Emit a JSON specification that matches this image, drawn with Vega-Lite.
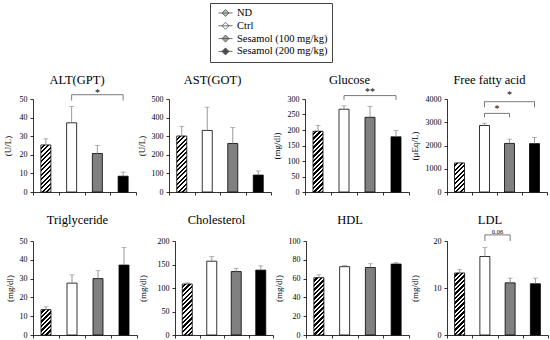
{
"$schema": "https://vega.github.io/schema/vega-lite/v6.json",
"padding": {"left": 3, "top": 0, "right": 0, "bottom": 0},
"spacing": 17,
"config": {
  "font": "Liberation Serif",
  "view": {"stroke": null},
  "axis": {"domainColor": "#000", "tickColor": "#000", "labelColor": "#000", "titleColor": "#000", "labelFont": "Liberation Serif", "titleFont": "Liberation Serif", "labelFontSize": 8, "titleFontSize": 9, "titleFontWeight": "normal", "tickSize": 3, "grid": false, "domainWidth": 0.8, "tickWidth": 0.8, "labelOverlap": false},
  "axisY": {"minExtent": 15, "maxExtent": 15, "labelPadding": 3, "labelOverlap": false, "tickCount": 20},
  "legend": {"labelFont": "Liberation Serif", "labelFontSize": 10.5, "labelColor": "#000", "labelLimit": 200},
  "title": {"font": "Liberation Serif", "fontSize": 12.5, "fontWeight": "normal", "color": "#000", "offset": 7, "frame": "group", "dx": -7.5}
},
"datasets": {
  "bars": [
    {"panel": "ALT", "group": "ND", "mean": 25.3, "upper": 28.6},
    {"panel": "ALT", "group": "Ctrl", "mean": 37.2, "upper": 45.9},
    {"panel": "ALT", "group": "Sesamol (100 mg/kg)", "mean": 20.7, "upper": 25.0},
    {"panel": "ALT", "group": "Sesamol (200 mg/kg)", "mean": 8.5, "upper": 10.7},
    {"panel": "AST", "group": "ND", "mean": 301, "upper": 352},
    {"panel": "AST", "group": "Ctrl", "mean": 331, "upper": 456},
    {"panel": "AST", "group": "Sesamol (100 mg/kg)", "mean": 261, "upper": 347},
    {"panel": "AST", "group": "Sesamol (200 mg/kg)", "mean": 91, "upper": 113},
    {"panel": "GLU", "group": "ND", "mean": 196, "upper": 215},
    {"panel": "GLU", "group": "Ctrl", "mean": 267, "upper": 278},
    {"panel": "GLU", "group": "Sesamol (100 mg/kg)", "mean": 241, "upper": 276},
    {"panel": "GLU", "group": "Sesamol (200 mg/kg)", "mean": 178, "upper": 198},
    {"panel": "FFA", "group": "ND", "mean": 1250, "upper": 1275},
    {"panel": "FFA", "group": "Ctrl", "mean": 2860, "upper": 2960},
    {"panel": "FFA", "group": "Sesamol (100 mg/kg)", "mean": 2090, "upper": 2270},
    {"panel": "FFA", "group": "Sesamol (200 mg/kg)", "mean": 2080, "upper": 2350},
    {"panel": "TG", "group": "ND", "mean": 13.5, "upper": 15.0},
    {"panel": "TG", "group": "Ctrl", "mean": 27.6, "upper": 32.0},
    {"panel": "TG", "group": "Sesamol (100 mg/kg)", "mean": 30.0, "upper": 34.2},
    {"panel": "TG", "group": "Sesamol (200 mg/kg)", "mean": 37.2, "upper": 46.6},
    {"panel": "TC", "group": "ND", "mean": 108.5, "upper": 111},
    {"panel": "TC", "group": "Ctrl", "mean": 157, "upper": 167},
    {"panel": "TC", "group": "Sesamol (100 mg/kg)", "mean": 135, "upper": 142},
    {"panel": "TC", "group": "Sesamol (200 mg/kg)", "mean": 138, "upper": 147},
    {"panel": "HDL", "group": "ND", "mean": 61, "upper": 64},
    {"panel": "HDL", "group": "Ctrl", "mean": 72.7, "upper": 74},
    {"panel": "HDL", "group": "Sesamol (100 mg/kg)", "mean": 71.8, "upper": 75.8},
    {"panel": "HDL", "group": "Sesamol (200 mg/kg)", "mean": 75.5, "upper": 77},
    {"panel": "LDL", "group": "ND", "mean": 13.2, "upper": 13.9},
    {"panel": "LDL", "group": "Ctrl", "mean": 16.7, "upper": 18.6},
    {"panel": "LDL", "group": "Sesamol (100 mg/kg)", "mean": 11.1, "upper": 12.1},
    {"panel": "LDL", "group": "Sesamol (200 mg/kg)", "mean": 10.9, "upper": 12.1}
  ],
  "brackets": [
    {"panel": "ALT", "id": "a", "ord": 1, "group": "Ctrl", "y": 49.2},
    {"panel": "ALT", "id": "a", "ord": 2, "group": "Ctrl", "y": 52.3},
    {"panel": "ALT", "id": "a", "ord": 3, "group": "Sesamol (200 mg/kg)", "y": 52.3},
    {"panel": "ALT", "id": "a", "ord": 4, "group": "Sesamol (200 mg/kg)", "y": 49.2},
    {"panel": "GLU", "id": "a", "ord": 1, "group": "Ctrl", "y": 297},
    {"panel": "GLU", "id": "a", "ord": 2, "group": "Ctrl", "y": 311},
    {"panel": "GLU", "id": "a", "ord": 3, "group": "Sesamol (200 mg/kg)", "y": 311},
    {"panel": "GLU", "id": "a", "ord": 4, "group": "Sesamol (200 mg/kg)", "y": 297},
    {"panel": "FFA", "id": "a", "ord": 1, "group": "Ctrl", "y": 3209},
    {"panel": "FFA", "id": "a", "ord": 2, "group": "Ctrl", "y": 3381},
    {"panel": "FFA", "id": "a", "ord": 3, "group": "Sesamol (100 mg/kg)", "y": 3381},
    {"panel": "FFA", "id": "a", "ord": 4, "group": "Sesamol (100 mg/kg)", "y": 3209},
    {"panel": "FFA", "id": "b", "ord": 1, "group": "Ctrl", "y": 3640},
    {"panel": "FFA", "id": "b", "ord": 2, "group": "Ctrl", "y": 3884},
    {"panel": "FFA", "id": "b", "ord": 3, "group": "Sesamol (200 mg/kg)", "y": 3884},
    {"panel": "FFA", "id": "b", "ord": 4, "group": "Sesamol (200 mg/kg)", "y": 3640},
    {"panel": "LDL", "id": "a", "ord": 1, "group": "Ctrl", "y": 20.0},
    {"panel": "LDL", "id": "a", "ord": 2, "group": "Ctrl", "y": 21.3},
    {"panel": "LDL", "id": "a", "ord": 3, "group": "Sesamol (100 mg/kg)", "y": 21.3},
    {"panel": "LDL", "id": "a", "ord": 4, "group": "Sesamol (100 mg/kg)", "y": 20.0}
  ],
  "sig": [
    {"panel": "ALT", "pos": "mid", "group": "Sesamol (100 mg/kg)", "y": 51.8, "label": "*"},
    {"panel": "GLU", "pos": "mid", "group": "Sesamol (100 mg/kg)", "y": 313, "label": "**"},
    {"panel": "FFA", "pos": "edge", "group": "Ctrl", "y": 3424, "label": "*"},
    {"panel": "FFA", "pos": "mid", "group": "Sesamol (100 mg/kg)", "y": 4030, "label": "*"},
    {"panel": "LDL", "pos": "edge", "group": "Ctrl", "y": 21.55, "label": "0.06"}
  ]
},
"vconcat": [
  {
    "width": 10, "height": 56,
    "data": {"name": "bars"},
    "transform": [{"filter": "false"}],
    "mark": {"type": "point", "filled": true, "shape": "M-1.4,0H1.4M0,-0.7L0.7,0L0,0.7L-0.7,0Z", "stroke": "#000", "strokeWidth": 0.8, "size": 100},
    "encoding": {
      "fill": {"field": "group", "type": "nominal",
        "scale": {"domain": ["ND", "Ctrl", "Sesamol (100 mg/kg)", "Sesamol (200 mg/kg)"], "range": ["#a6a6a6", "#ffffff", "#808080", "#000000"]},
        "legend": {"title": null, "orient": "none", "legendX": 177, "legendY": 3, "direction": "vertical", "strokeColor": "#444", "padding": 4.5, "symbolOffset": 5.5, "symbolType": "M-1.4,0H1.4M0,-0.7L0.7,0L0,0.7L-0.7,0Z", "symbolSize": 100, "symbolStrokeColor": "#000", "symbolStrokeWidth": 0.8, "labelFont": "Liberation Serif", "labelFontSize": 10.5, "labelColor": "#000", "labelOffset": 6, "rowPadding": 1.8, "labelLimit": 200}}
    }
  },
  {
    "spacing": 0,
    "hconcat": [
      {
        "width": 103, "height": 93,
        "title": {"text": "ALT(GPT)", "offset": 1.35},
        "encoding": {"x": {"field": "group", "type": "nominal", "title": null, "scale": {"domain": ["ND", "Ctrl", "Sesamol (100 mg/kg)", "Sesamol (200 mg/kg)"], "paddingInner": 0, "paddingOuter": 0}, "axis": {"labels": false, "tickBand": "extent", "title": null}}},
        "layer": [
          {"data": {"name": "bars"}, "transform": [{"filter": "datum.panel==='ALT' && datum.group!=='ND'"}],
           "mark": {"type": "bar", "width": 10, "stroke": "#000", "strokeWidth": 0.8},
           "encoding": {"y": {"field": "mean", "type": "quantitative", "title": "(U/L)", "scale": {"domain": [0, 50], "nice": false}, "axis": {"values": [0, 10, 20, 30, 40, 50], "tickCount": 20, "labelOverlap": false, "titlePadding": 5.5}},
             "fill": {"field": "group", "type": "nominal", "scale": {"domain": ["ND", "Ctrl", "Sesamol (100 mg/kg)", "Sesamol (200 mg/kg)"], "range": ["#a6a6a6", "#ffffff", "#808080", "#000000"]}, "legend": null}}},
          {"data": {"name": "bars"}, "transform": [{"filter": "datum.panel==='ALT' && datum.group==='ND'"}],
           "mark": {"type": "bar", "width": 10, "stroke": "#000", "strokeWidth": 0.8, "fill": {"gradient": "linear", "x1": 0, "y1": 0, "x2": 0.3456, "y2": 1.6265, "stops": [{"offset":0,"color":"#fff"},{"offset":0.028,"color":"#fff"},{"offset":0.028,"color":"#000"},{"offset":0.056,"color":"#000"},{"offset":0.056,"color":"#fff"},{"offset":0.084,"color":"#fff"},{"offset":0.084,"color":"#000"},{"offset":0.113,"color":"#000"},{"offset":0.113,"color":"#fff"},{"offset":0.141,"color":"#fff"},{"offset":0.141,"color":"#000"},{"offset":0.169,"color":"#000"},{"offset":0.169,"color":"#fff"},{"offset":0.197,"color":"#fff"},{"offset":0.197,"color":"#000"},{"offset":0.225,"color":"#000"},{"offset":0.225,"color":"#fff"},{"offset":0.253,"color":"#fff"},{"offset":0.253,"color":"#000"},{"offset":0.281,"color":"#000"},{"offset":0.281,"color":"#fff"},{"offset":0.309,"color":"#fff"},{"offset":0.309,"color":"#000"},{"offset":0.338,"color":"#000"},{"offset":0.338,"color":"#fff"},{"offset":0.366,"color":"#fff"},{"offset":0.366,"color":"#000"},{"offset":0.394,"color":"#000"},{"offset":0.394,"color":"#fff"},{"offset":0.422,"color":"#fff"},{"offset":0.422,"color":"#000"},{"offset":0.45,"color":"#000"},{"offset":0.45,"color":"#fff"},{"offset":0.478,"color":"#fff"},{"offset":0.478,"color":"#000"},{"offset":0.506,"color":"#000"},{"offset":0.506,"color":"#fff"},{"offset":0.534,"color":"#fff"},{"offset":0.534,"color":"#000"},{"offset":0.563,"color":"#000"},{"offset":0.563,"color":"#fff"},{"offset":0.591,"color":"#fff"},{"offset":0.591,"color":"#000"},{"offset":0.619,"color":"#000"},{"offset":0.619,"color":"#fff"},{"offset":0.647,"color":"#fff"},{"offset":0.647,"color":"#000"},{"offset":0.675,"color":"#000"},{"offset":0.675,"color":"#fff"},{"offset":0.703,"color":"#fff"},{"offset":0.703,"color":"#000"},{"offset":0.731,"color":"#000"},{"offset":0.731,"color":"#fff"},{"offset":1,"color":"#fff"}]}},
           "encoding": {"y": {"field": "mean", "type": "quantitative", "title": "(U/L)", "scale": {"domain": [0, 50], "nice": false}}}},
          {"data": {"name": "bars"}, "transform": [{"filter": "datum.panel==='ALT'"}],
           "mark": {"type": "rule", "color": "#808080", "strokeWidth": 0.8},
           "encoding": {"y": {"field": "mean", "type": "quantitative", "title": "(U/L)", "scale": {"domain": [0, 50], "nice": false}}, "y2": {"field": "upper"}}},
          {"data": {"name": "bars"}, "transform": [{"filter": "datum.panel==='ALT'"}],
           "mark": {"type": "tick", "color": "#808080", "size": 5, "thickness": 0.8},
           "encoding": {"y": {"field": "upper", "type": "quantitative", "title": "(U/L)", "scale": {"domain": [0, 50], "nice": false}}}},
          {"data": {"name": "brackets"}, "transform": [{"filter": "datum.panel==='ALT'"}],
           "mark": {"type": "line", "color": "#595959", "strokeWidth": 0.8},
           "encoding": {"y": {"field": "y", "type": "quantitative", "title": "(U/L)", "scale": {"domain": [0, 50], "nice": false}}, "detail": {"field": "id"}, "order": {"field": "ord"}}},
          {"data": {"name": "sig"}, "transform": [{"filter": "datum.panel==='ALT'"}],
           "mark": {"type": "text", "fontSize": 10, "baseline": "alphabetic", "font": "Liberation Serif", "color": "#000"},
           "encoding": {"y": {"field": "y", "type": "quantitative", "title": "(U/L)", "scale": {"domain": [0, 50], "nice": false}}, "text": {"field": "label"}}}
        ]
      },
      {
        "width": 102, "height": 93,
        "title": {"text": "AST(GOT)", "offset": 8.7},
        "encoding": {"x": {"field": "group", "type": "nominal", "title": null, "scale": {"domain": ["ND", "Ctrl", "Sesamol (100 mg/kg)", "Sesamol (200 mg/kg)"], "paddingInner": 0, "paddingOuter": 0}, "axis": {"labels": false, "tickBand": "extent", "title": null}}},
        "layer": [
          {"data": {"name": "bars"}, "transform": [{"filter": "datum.panel==='AST' && datum.group!=='ND'"}],
           "mark": {"type": "bar", "width": 10, "stroke": "#000", "strokeWidth": 0.8},
           "encoding": {"y": {"field": "mean", "type": "quantitative", "title": "(U/L)", "scale": {"domain": [0, 500], "nice": false}, "axis": {"values": [0, 100, 200, 300, 400, 500], "tickCount": 20, "labelOverlap": false, "titlePadding": 7.5}},
             "fill": {"field": "group", "type": "nominal", "scale": {"domain": ["ND", "Ctrl", "Sesamol (100 mg/kg)", "Sesamol (200 mg/kg)"], "range": ["#a6a6a6", "#ffffff", "#808080", "#000000"]}, "legend": null}}},
          {"data": {"name": "bars"}, "transform": [{"filter": "datum.panel==='AST' && datum.group==='ND'"}],
           "mark": {"type": "bar", "width": 10, "stroke": "#000", "strokeWidth": 0.8, "fill": {"gradient": "linear", "x1": 0, "y1": 0, "x2": 0.2473, "y2": 1.3847, "stops": [{"offset":0,"color":"#fff"},{"offset":0.028,"color":"#fff"},{"offset":0.028,"color":"#000"},{"offset":0.056,"color":"#000"},{"offset":0.056,"color":"#fff"},{"offset":0.084,"color":"#fff"},{"offset":0.084,"color":"#000"},{"offset":0.113,"color":"#000"},{"offset":0.113,"color":"#fff"},{"offset":0.141,"color":"#fff"},{"offset":0.141,"color":"#000"},{"offset":0.169,"color":"#000"},{"offset":0.169,"color":"#fff"},{"offset":0.197,"color":"#fff"},{"offset":0.197,"color":"#000"},{"offset":0.225,"color":"#000"},{"offset":0.225,"color":"#fff"},{"offset":0.253,"color":"#fff"},{"offset":0.253,"color":"#000"},{"offset":0.281,"color":"#000"},{"offset":0.281,"color":"#fff"},{"offset":0.309,"color":"#fff"},{"offset":0.309,"color":"#000"},{"offset":0.338,"color":"#000"},{"offset":0.338,"color":"#fff"},{"offset":0.366,"color":"#fff"},{"offset":0.366,"color":"#000"},{"offset":0.394,"color":"#000"},{"offset":0.394,"color":"#fff"},{"offset":0.422,"color":"#fff"},{"offset":0.422,"color":"#000"},{"offset":0.45,"color":"#000"},{"offset":0.45,"color":"#fff"},{"offset":0.478,"color":"#fff"},{"offset":0.478,"color":"#000"},{"offset":0.506,"color":"#000"},{"offset":0.506,"color":"#fff"},{"offset":0.534,"color":"#fff"},{"offset":0.534,"color":"#000"},{"offset":0.563,"color":"#000"},{"offset":0.563,"color":"#fff"},{"offset":0.591,"color":"#fff"},{"offset":0.591,"color":"#000"},{"offset":0.619,"color":"#000"},{"offset":0.619,"color":"#fff"},{"offset":0.647,"color":"#fff"},{"offset":0.647,"color":"#000"},{"offset":0.675,"color":"#000"},{"offset":0.675,"color":"#fff"},{"offset":0.703,"color":"#fff"},{"offset":0.703,"color":"#000"},{"offset":0.731,"color":"#000"},{"offset":0.731,"color":"#fff"},{"offset":0.759,"color":"#fff"},{"offset":0.759,"color":"#000"},{"offset":0.788,"color":"#000"},{"offset":0.788,"color":"#fff"},{"offset":0.816,"color":"#fff"},{"offset":0.816,"color":"#000"},{"offset":0.844,"color":"#000"},{"offset":0.844,"color":"#fff"},{"offset":1,"color":"#fff"}]}},
           "encoding": {"y": {"field": "mean", "type": "quantitative", "title": "(U/L)", "scale": {"domain": [0, 500], "nice": false}}}},
          {"data": {"name": "bars"}, "transform": [{"filter": "datum.panel==='AST'"}],
           "mark": {"type": "rule", "color": "#808080", "strokeWidth": 0.8},
           "encoding": {"y": {"field": "mean", "type": "quantitative", "title": "(U/L)", "scale": {"domain": [0, 500], "nice": false}}, "y2": {"field": "upper"}}},
          {"data": {"name": "bars"}, "transform": [{"filter": "datum.panel==='AST'"}],
           "mark": {"type": "tick", "color": "#808080", "size": 5, "thickness": 0.8},
           "encoding": {"y": {"field": "upper", "type": "quantitative", "title": "(U/L)", "scale": {"domain": [0, 500], "nice": false}}}}
        ]
      },
      {
        "width": 104, "height": 93,
        "title": {"text": "Glucose", "offset": 0.67},
        "encoding": {"x": {"field": "group", "type": "nominal", "title": null, "scale": {"domain": ["ND", "Ctrl", "Sesamol (100 mg/kg)", "Sesamol (200 mg/kg)"], "paddingInner": 0, "paddingOuter": 0}, "axis": {"labels": false, "tickBand": "extent", "title": null}}},
        "layer": [
          {"data": {"name": "bars"}, "transform": [{"filter": "datum.panel==='GLU' && datum.group!=='ND'"}],
           "mark": {"type": "bar", "width": 10, "stroke": "#000", "strokeWidth": 0.8},
           "encoding": {"y": {"field": "mean", "type": "quantitative", "title": "(mg/dl)", "scale": {"domain": [0, 300], "nice": false}, "axis": {"values": [0, 50, 100, 150, 200, 250, 300], "tickCount": 20, "labelOverlap": false, "titlePadding": 9}},
             "fill": {"field": "group", "type": "nominal", "scale": {"domain": ["ND", "Ctrl", "Sesamol (100 mg/kg)", "Sesamol (200 mg/kg)"], "range": ["#a6a6a6", "#ffffff", "#808080", "#000000"]}, "legend": null}}},
          {"data": {"name": "bars"}, "transform": [{"filter": "datum.panel==='GLU' && datum.group==='ND'"}],
           "mark": {"type": "bar", "width": 10, "stroke": "#000", "strokeWidth": 0.8, "fill": {"gradient": "linear", "x1": 0, "y1": 0, "x2": 0.2110, "y2": 1.2819, "stops": [{"offset":0,"color":"#fff"},{"offset":0.028,"color":"#fff"},{"offset":0.028,"color":"#000"},{"offset":0.056,"color":"#000"},{"offset":0.056,"color":"#fff"},{"offset":0.084,"color":"#fff"},{"offset":0.084,"color":"#000"},{"offset":0.113,"color":"#000"},{"offset":0.113,"color":"#fff"},{"offset":0.141,"color":"#fff"},{"offset":0.141,"color":"#000"},{"offset":0.169,"color":"#000"},{"offset":0.169,"color":"#fff"},{"offset":0.197,"color":"#fff"},{"offset":0.197,"color":"#000"},{"offset":0.225,"color":"#000"},{"offset":0.225,"color":"#fff"},{"offset":0.253,"color":"#fff"},{"offset":0.253,"color":"#000"},{"offset":0.281,"color":"#000"},{"offset":0.281,"color":"#fff"},{"offset":0.309,"color":"#fff"},{"offset":0.309,"color":"#000"},{"offset":0.338,"color":"#000"},{"offset":0.338,"color":"#fff"},{"offset":0.366,"color":"#fff"},{"offset":0.366,"color":"#000"},{"offset":0.394,"color":"#000"},{"offset":0.394,"color":"#fff"},{"offset":0.422,"color":"#fff"},{"offset":0.422,"color":"#000"},{"offset":0.45,"color":"#000"},{"offset":0.45,"color":"#fff"},{"offset":0.478,"color":"#fff"},{"offset":0.478,"color":"#000"},{"offset":0.506,"color":"#000"},{"offset":0.506,"color":"#fff"},{"offset":0.534,"color":"#fff"},{"offset":0.534,"color":"#000"},{"offset":0.563,"color":"#000"},{"offset":0.563,"color":"#fff"},{"offset":0.591,"color":"#fff"},{"offset":0.591,"color":"#000"},{"offset":0.619,"color":"#000"},{"offset":0.619,"color":"#fff"},{"offset":0.647,"color":"#fff"},{"offset":0.647,"color":"#000"},{"offset":0.675,"color":"#000"},{"offset":0.675,"color":"#fff"},{"offset":0.703,"color":"#fff"},{"offset":0.703,"color":"#000"},{"offset":0.731,"color":"#000"},{"offset":0.731,"color":"#fff"},{"offset":0.759,"color":"#fff"},{"offset":0.759,"color":"#000"},{"offset":0.788,"color":"#000"},{"offset":0.788,"color":"#fff"},{"offset":0.816,"color":"#fff"},{"offset":0.816,"color":"#000"},{"offset":0.844,"color":"#000"},{"offset":0.844,"color":"#fff"},{"offset":0.872,"color":"#fff"},{"offset":0.872,"color":"#000"},{"offset":0.9,"color":"#000"},{"offset":0.9,"color":"#fff"},{"offset":1,"color":"#fff"}]}},
           "encoding": {"y": {"field": "mean", "type": "quantitative", "title": "(mg/dl)", "scale": {"domain": [0, 300], "nice": false}}}},
          {"data": {"name": "bars"}, "transform": [{"filter": "datum.panel==='GLU'"}],
           "mark": {"type": "rule", "color": "#808080", "strokeWidth": 0.8},
           "encoding": {"y": {"field": "mean", "type": "quantitative", "title": "(mg/dl)", "scale": {"domain": [0, 300], "nice": false}}, "y2": {"field": "upper"}}},
          {"data": {"name": "bars"}, "transform": [{"filter": "datum.panel==='GLU'"}],
           "mark": {"type": "tick", "color": "#808080", "size": 5, "thickness": 0.8},
           "encoding": {"y": {"field": "upper", "type": "quantitative", "title": "(mg/dl)", "scale": {"domain": [0, 300], "nice": false}}}},
          {"data": {"name": "brackets"}, "transform": [{"filter": "datum.panel==='GLU'"}],
           "mark": {"type": "line", "color": "#595959", "strokeWidth": 0.8},
           "encoding": {"y": {"field": "y", "type": "quantitative", "title": "(mg/dl)", "scale": {"domain": [0, 300], "nice": false}}, "detail": {"field": "id"}, "order": {"field": "ord"}}},
          {"data": {"name": "sig"}, "transform": [{"filter": "datum.panel==='GLU'"}],
           "mark": {"type": "text", "fontSize": 10, "baseline": "alphabetic", "font": "Liberation Serif", "color": "#000"},
           "encoding": {"y": {"field": "y", "type": "quantitative", "title": "(mg/dl)", "scale": {"domain": [0, 300], "nice": false}}, "text": {"field": "label"}}}
        ]
      },
      {
        "width": 100, "height": 93,
        "title": {"text": "Free fatty acid", "offset": 4},
        "encoding": {"x": {"field": "group", "type": "nominal", "title": null, "scale": {"domain": ["ND", "Ctrl", "Sesamol (100 mg/kg)", "Sesamol (200 mg/kg)"], "paddingInner": 0, "paddingOuter": 0}, "axis": {"labels": false, "tickBand": "extent", "title": null}}},
        "layer": [
          {"data": {"name": "bars"}, "transform": [{"filter": "datum.panel==='FFA' && datum.group!=='ND'"}],
           "mark": {"type": "bar", "width": 10, "stroke": "#000", "strokeWidth": 0.8},
           "encoding": {"y": {"field": "mean", "type": "quantitative", "title": "(μEq/L)", "scale": {"domain": [0, 4000], "nice": false}, "axis": {"values": [0, 1000, 2000, 3000, 4000], "tickCount": 20, "format": "d", "labelOverlap": false, "titlePadding": 13}},
             "fill": {"field": "group", "type": "nominal", "scale": {"domain": ["ND", "Ctrl", "Sesamol (100 mg/kg)", "Sesamol (200 mg/kg)"], "range": ["#a6a6a6", "#ffffff", "#808080", "#000000"]}, "legend": null}}},
          {"data": {"name": "bars"}, "transform": [{"filter": "datum.panel==='FFA' && datum.group==='ND'"}],
           "mark": {"type": "bar", "width": 10, "stroke": "#000", "strokeWidth": 0.8, "fill": {"gradient": "linear", "x1": 0, "y1": 0, "x2": 0.8470, "y2": 2.4614, "stops": [{"offset":0,"color":"#fff"},{"offset":0.028,"color":"#fff"},{"offset":0.028,"color":"#000"},{"offset":0.056,"color":"#000"},{"offset":0.056,"color":"#fff"},{"offset":0.084,"color":"#fff"},{"offset":0.084,"color":"#000"},{"offset":0.113,"color":"#000"},{"offset":0.113,"color":"#fff"},{"offset":0.141,"color":"#fff"},{"offset":0.141,"color":"#000"},{"offset":0.169,"color":"#000"},{"offset":0.169,"color":"#fff"},{"offset":0.197,"color":"#fff"},{"offset":0.197,"color":"#000"},{"offset":0.225,"color":"#000"},{"offset":0.225,"color":"#fff"},{"offset":0.253,"color":"#fff"},{"offset":0.253,"color":"#000"},{"offset":0.281,"color":"#000"},{"offset":0.281,"color":"#fff"},{"offset":0.309,"color":"#fff"},{"offset":0.309,"color":"#000"},{"offset":0.338,"color":"#000"},{"offset":0.338,"color":"#fff"},{"offset":0.366,"color":"#fff"},{"offset":0.366,"color":"#000"},{"offset":0.394,"color":"#000"},{"offset":0.394,"color":"#fff"},{"offset":0.422,"color":"#fff"},{"offset":0.422,"color":"#000"},{"offset":0.45,"color":"#000"},{"offset":0.45,"color":"#fff"},{"offset":0.478,"color":"#fff"},{"offset":0.478,"color":"#000"},{"offset":0.506,"color":"#000"},{"offset":0.506,"color":"#fff"},{"offset":1,"color":"#fff"}]}},
           "encoding": {"y": {"field": "mean", "type": "quantitative", "title": "(μEq/L)", "scale": {"domain": [0, 4000], "nice": false}}}},
          {"data": {"name": "bars"}, "transform": [{"filter": "datum.panel==='FFA'"}],
           "mark": {"type": "rule", "color": "#808080", "strokeWidth": 0.8},
           "encoding": {"y": {"field": "mean", "type": "quantitative", "title": "(μEq/L)", "scale": {"domain": [0, 4000], "nice": false}}, "y2": {"field": "upper"}}},
          {"data": {"name": "bars"}, "transform": [{"filter": "datum.panel==='FFA'"}],
           "mark": {"type": "tick", "color": "#808080", "size": 5, "thickness": 0.8},
           "encoding": {"y": {"field": "upper", "type": "quantitative", "title": "(μEq/L)", "scale": {"domain": [0, 4000], "nice": false}}}},
          {"data": {"name": "brackets"}, "transform": [{"filter": "datum.panel==='FFA'"}],
           "mark": {"type": "line", "color": "#595959", "strokeWidth": 0.8},
           "encoding": {"y": {"field": "y", "type": "quantitative", "title": "(μEq/L)", "scale": {"domain": [0, 4000], "nice": false}}, "detail": {"field": "id"}, "order": {"field": "ord"}}},
          {"data": {"name": "sig"}, "transform": [{"filter": "datum.panel==='FFA' && datum.pos==='mid'"}],
           "mark": {"type": "text", "fontSize": 10, "baseline": "alphabetic", "font": "Liberation Serif", "color": "#000"},
           "encoding": {"y": {"field": "y", "type": "quantitative", "title": "(μEq/L)", "scale": {"domain": [0, 4000], "nice": false}}, "text": {"field": "label"}}},
          {"data": {"name": "sig"}, "transform": [{"filter": "datum.panel==='FFA' && datum.pos==='edge'"}],
           "mark": {"type": "text", "fontSize": 10, "baseline": "alphabetic", "font": "Liberation Serif", "color": "#000"},
           "encoding": {"x": {"field": "group", "type": "nominal", "bandPosition": 1}, "y": {"field": "y", "type": "quantitative", "title": "(μEq/L)", "scale": {"domain": [0, 4000], "nice": false}}, "text": {"field": "label"}}}
        ]
      }
    ]
  },
  {
    "spacing": 0,
    "hconcat": [
      {
        "width": 104, "height": 94,
        "title": {"text": "Triglyceride", "offset": 11},
        "encoding": {"x": {"field": "group", "type": "nominal", "title": null, "scale": {"domain": ["ND", "Ctrl", "Sesamol (100 mg/kg)", "Sesamol (200 mg/kg)"], "paddingInner": 0, "paddingOuter": 0}, "axis": {"labels": false, "tickBand": "extent", "title": null}}},
        "layer": [
          {"data": {"name": "bars"}, "transform": [{"filter": "datum.panel==='TG' && datum.group!=='ND'"}],
           "mark": {"type": "bar", "width": 10, "stroke": "#000", "strokeWidth": 0.8},
           "encoding": {"y": {"field": "mean", "type": "quantitative", "title": "(mg/dl)", "scale": {"domain": [0, 50], "nice": false}, "axis": {"values": [0, 10, 20, 30, 40, 50], "tickCount": 20, "labelOverlap": false, "titlePadding": 3.5}},
             "fill": {"field": "group", "type": "nominal", "scale": {"domain": ["ND", "Ctrl", "Sesamol (100 mg/kg)", "Sesamol (200 mg/kg)"], "range": ["#a6a6a6", "#ffffff", "#808080", "#000000"]}, "legend": null}}},
          {"data": {"name": "bars"}, "transform": [{"filter": "datum.panel==='TG' && datum.group==='ND'"}],
           "mark": {"type": "bar", "width": 10, "stroke": "#000", "strokeWidth": 0.8, "fill": {"gradient": "linear", "x1": 0, "y1": 0, "x2": 1.0751, "y2": 2.7287, "stops": [{"offset":0,"color":"#fff"},{"offset":0.028,"color":"#fff"},{"offset":0.028,"color":"#000"},{"offset":0.056,"color":"#000"},{"offset":0.056,"color":"#fff"},{"offset":0.084,"color":"#fff"},{"offset":0.084,"color":"#000"},{"offset":0.113,"color":"#000"},{"offset":0.113,"color":"#fff"},{"offset":0.141,"color":"#fff"},{"offset":0.141,"color":"#000"},{"offset":0.169,"color":"#000"},{"offset":0.169,"color":"#fff"},{"offset":0.197,"color":"#fff"},{"offset":0.197,"color":"#000"},{"offset":0.225,"color":"#000"},{"offset":0.225,"color":"#fff"},{"offset":0.253,"color":"#fff"},{"offset":0.253,"color":"#000"},{"offset":0.281,"color":"#000"},{"offset":0.281,"color":"#fff"},{"offset":0.309,"color":"#fff"},{"offset":0.309,"color":"#000"},{"offset":0.338,"color":"#000"},{"offset":0.338,"color":"#fff"},{"offset":0.366,"color":"#fff"},{"offset":0.366,"color":"#000"},{"offset":0.394,"color":"#000"},{"offset":0.394,"color":"#fff"},{"offset":0.422,"color":"#fff"},{"offset":0.422,"color":"#000"},{"offset":0.45,"color":"#000"},{"offset":0.45,"color":"#fff"},{"offset":1,"color":"#fff"}]}},
           "encoding": {"y": {"field": "mean", "type": "quantitative", "title": "(mg/dl)", "scale": {"domain": [0, 50], "nice": false}}}},
          {"data": {"name": "bars"}, "transform": [{"filter": "datum.panel==='TG'"}],
           "mark": {"type": "rule", "color": "#808080", "strokeWidth": 0.8},
           "encoding": {"y": {"field": "mean", "type": "quantitative", "title": "(mg/dl)", "scale": {"domain": [0, 50], "nice": false}}, "y2": {"field": "upper"}}},
          {"data": {"name": "bars"}, "transform": [{"filter": "datum.panel==='TG'"}],
           "mark": {"type": "tick", "color": "#808080", "size": 5, "thickness": 0.8},
           "encoding": {"y": {"field": "upper", "type": "quantitative", "title": "(mg/dl)", "scale": {"domain": [0, 50], "nice": false}}}}
        ]
      },
      {
        "width": 98, "height": 94,
        "title": {"text": "Cholesterol", "offset": 11},
        "encoding": {"x": {"field": "group", "type": "nominal", "title": null, "scale": {"domain": ["ND", "Ctrl", "Sesamol (100 mg/kg)", "Sesamol (200 mg/kg)"], "paddingInner": 0, "paddingOuter": 0}, "axis": {"labels": false, "tickBand": "extent", "title": null}}},
        "layer": [
          {"data": {"name": "bars"}, "transform": [{"filter": "datum.panel==='TC' && datum.group!=='ND'"}],
           "mark": {"type": "bar", "width": 10, "stroke": "#000", "strokeWidth": 0.8},
           "encoding": {"y": {"field": "mean", "type": "quantitative", "title": "(mg/dl)", "scale": {"domain": [0, 200], "nice": false}, "axis": {"values": [0, 50, 100, 150, 200], "tickCount": 20, "labelOverlap": false, "titlePadding": 13}},
             "fill": {"field": "group", "type": "nominal", "scale": {"domain": ["ND", "Ctrl", "Sesamol (100 mg/kg)", "Sesamol (200 mg/kg)"], "range": ["#a6a6a6", "#ffffff", "#808080", "#000000"]}, "legend": null}}},
          {"data": {"name": "bars"}, "transform": [{"filter": "datum.panel==='TC' && datum.group==='ND'"}],
           "mark": {"type": "bar", "width": 10, "stroke": "#000", "strokeWidth": 0.8, "fill": {"gradient": "linear", "x1": 0, "y1": 0, "x2": 0.2962, "y2": 1.5106, "stops": [{"offset":0,"color":"#fff"},{"offset":0.028,"color":"#fff"},{"offset":0.028,"color":"#000"},{"offset":0.056,"color":"#000"},{"offset":0.056,"color":"#fff"},{"offset":0.084,"color":"#fff"},{"offset":0.084,"color":"#000"},{"offset":0.113,"color":"#000"},{"offset":0.113,"color":"#fff"},{"offset":0.141,"color":"#fff"},{"offset":0.141,"color":"#000"},{"offset":0.169,"color":"#000"},{"offset":0.169,"color":"#fff"},{"offset":0.197,"color":"#fff"},{"offset":0.197,"color":"#000"},{"offset":0.225,"color":"#000"},{"offset":0.225,"color":"#fff"},{"offset":0.253,"color":"#fff"},{"offset":0.253,"color":"#000"},{"offset":0.281,"color":"#000"},{"offset":0.281,"color":"#fff"},{"offset":0.309,"color":"#fff"},{"offset":0.309,"color":"#000"},{"offset":0.338,"color":"#000"},{"offset":0.338,"color":"#fff"},{"offset":0.366,"color":"#fff"},{"offset":0.366,"color":"#000"},{"offset":0.394,"color":"#000"},{"offset":0.394,"color":"#fff"},{"offset":0.422,"color":"#fff"},{"offset":0.422,"color":"#000"},{"offset":0.45,"color":"#000"},{"offset":0.45,"color":"#fff"},{"offset":0.478,"color":"#fff"},{"offset":0.478,"color":"#000"},{"offset":0.506,"color":"#000"},{"offset":0.506,"color":"#fff"},{"offset":0.534,"color":"#fff"},{"offset":0.534,"color":"#000"},{"offset":0.563,"color":"#000"},{"offset":0.563,"color":"#fff"},{"offset":0.591,"color":"#fff"},{"offset":0.591,"color":"#000"},{"offset":0.619,"color":"#000"},{"offset":0.619,"color":"#fff"},{"offset":0.647,"color":"#fff"},{"offset":0.647,"color":"#000"},{"offset":0.675,"color":"#000"},{"offset":0.675,"color":"#fff"},{"offset":0.703,"color":"#fff"},{"offset":0.703,"color":"#000"},{"offset":0.731,"color":"#000"},{"offset":0.731,"color":"#fff"},{"offset":0.759,"color":"#fff"},{"offset":0.759,"color":"#000"},{"offset":0.788,"color":"#000"},{"offset":0.788,"color":"#fff"},{"offset":1,"color":"#fff"}]}},
           "encoding": {"y": {"field": "mean", "type": "quantitative", "title": "(mg/dl)", "scale": {"domain": [0, 200], "nice": false}}}},
          {"data": {"name": "bars"}, "transform": [{"filter": "datum.panel==='TC'"}],
           "mark": {"type": "rule", "color": "#808080", "strokeWidth": 0.8},
           "encoding": {"y": {"field": "mean", "type": "quantitative", "title": "(mg/dl)", "scale": {"domain": [0, 200], "nice": false}}, "y2": {"field": "upper"}}},
          {"data": {"name": "bars"}, "transform": [{"filter": "datum.panel==='TC'"}],
           "mark": {"type": "tick", "color": "#808080", "size": 5, "thickness": 0.8},
           "encoding": {"y": {"field": "upper", "type": "quantitative", "title": "(mg/dl)", "scale": {"domain": [0, 200], "nice": false}}}}
        ]
      },
      {
        "width": 103, "height": 94,
        "title": {"text": "HDL", "offset": 11},
        "encoding": {"x": {"field": "group", "type": "nominal", "title": null, "scale": {"domain": ["ND", "Ctrl", "Sesamol (100 mg/kg)", "Sesamol (200 mg/kg)"], "paddingInner": 0, "paddingOuter": 0}, "axis": {"labels": false, "tickBand": "extent", "title": null}}},
        "layer": [
          {"data": {"name": "bars"}, "transform": [{"filter": "datum.panel==='HDL' && datum.group!=='ND'"}],
           "mark": {"type": "bar", "width": 10, "stroke": "#000", "strokeWidth": 0.8},
           "encoding": {"y": {"field": "mean", "type": "quantitative", "title": "(mg/dl)", "scale": {"domain": [0, 100], "nice": false}, "axis": {"values": [0, 20, 40, 60, 80, 100], "tickCount": 20, "labelOverlap": false, "titlePadding": 7.5}},
             "fill": {"field": "group", "type": "nominal", "scale": {"domain": ["ND", "Ctrl", "Sesamol (100 mg/kg)", "Sesamol (200 mg/kg)"], "range": ["#a6a6a6", "#ffffff", "#808080", "#000000"]}, "legend": null}}},
          {"data": {"name": "bars"}, "transform": [{"filter": "datum.panel==='HDL' && datum.group==='ND'"}],
           "mark": {"type": "bar", "width": 10, "stroke": "#000", "strokeWidth": 0.8, "fill": {"gradient": "linear", "x1": 0, "y1": 0, "x2": 0.2361, "y2": 1.3540, "stops": [{"offset":0,"color":"#fff"},{"offset":0.028,"color":"#fff"},{"offset":0.028,"color":"#000"},{"offset":0.056,"color":"#000"},{"offset":0.056,"color":"#fff"},{"offset":0.084,"color":"#fff"},{"offset":0.084,"color":"#000"},{"offset":0.113,"color":"#000"},{"offset":0.113,"color":"#fff"},{"offset":0.141,"color":"#fff"},{"offset":0.141,"color":"#000"},{"offset":0.169,"color":"#000"},{"offset":0.169,"color":"#fff"},{"offset":0.197,"color":"#fff"},{"offset":0.197,"color":"#000"},{"offset":0.225,"color":"#000"},{"offset":0.225,"color":"#fff"},{"offset":0.253,"color":"#fff"},{"offset":0.253,"color":"#000"},{"offset":0.281,"color":"#000"},{"offset":0.281,"color":"#fff"},{"offset":0.309,"color":"#fff"},{"offset":0.309,"color":"#000"},{"offset":0.338,"color":"#000"},{"offset":0.338,"color":"#fff"},{"offset":0.366,"color":"#fff"},{"offset":0.366,"color":"#000"},{"offset":0.394,"color":"#000"},{"offset":0.394,"color":"#fff"},{"offset":0.422,"color":"#fff"},{"offset":0.422,"color":"#000"},{"offset":0.45,"color":"#000"},{"offset":0.45,"color":"#fff"},{"offset":0.478,"color":"#fff"},{"offset":0.478,"color":"#000"},{"offset":0.506,"color":"#000"},{"offset":0.506,"color":"#fff"},{"offset":0.534,"color":"#fff"},{"offset":0.534,"color":"#000"},{"offset":0.563,"color":"#000"},{"offset":0.563,"color":"#fff"},{"offset":0.591,"color":"#fff"},{"offset":0.591,"color":"#000"},{"offset":0.619,"color":"#000"},{"offset":0.619,"color":"#fff"},{"offset":0.647,"color":"#fff"},{"offset":0.647,"color":"#000"},{"offset":0.675,"color":"#000"},{"offset":0.675,"color":"#fff"},{"offset":0.703,"color":"#fff"},{"offset":0.703,"color":"#000"},{"offset":0.731,"color":"#000"},{"offset":0.731,"color":"#fff"},{"offset":0.759,"color":"#fff"},{"offset":0.759,"color":"#000"},{"offset":0.788,"color":"#000"},{"offset":0.788,"color":"#fff"},{"offset":0.816,"color":"#fff"},{"offset":0.816,"color":"#000"},{"offset":0.844,"color":"#000"},{"offset":0.844,"color":"#fff"},{"offset":1,"color":"#fff"}]}},
           "encoding": {"y": {"field": "mean", "type": "quantitative", "title": "(mg/dl)", "scale": {"domain": [0, 100], "nice": false}}}},
          {"data": {"name": "bars"}, "transform": [{"filter": "datum.panel==='HDL'"}],
           "mark": {"type": "rule", "color": "#808080", "strokeWidth": 0.8},
           "encoding": {"y": {"field": "mean", "type": "quantitative", "title": "(mg/dl)", "scale": {"domain": [0, 100], "nice": false}}, "y2": {"field": "upper"}}},
          {"data": {"name": "bars"}, "transform": [{"filter": "datum.panel==='HDL'"}],
           "mark": {"type": "tick", "color": "#808080", "size": 5, "thickness": 0.8},
           "encoding": {"y": {"field": "upper", "type": "quantitative", "title": "(mg/dl)", "scale": {"domain": [0, 100], "nice": false}}}}
        ]
      },
      {
        "width": 101, "height": 94,
        "title": {"text": "LDL", "offset": 2.6},
        "encoding": {"x": {"field": "group", "type": "nominal", "title": null, "scale": {"domain": ["ND", "Ctrl", "Sesamol (100 mg/kg)", "Sesamol (200 mg/kg)"], "paddingInner": 0, "paddingOuter": 0}, "axis": {"labels": false, "tickBand": "extent", "title": null}}},
        "layer": [
          {"data": {"name": "bars"}, "transform": [{"filter": "datum.panel==='LDL' && datum.group!=='ND'"}],
           "mark": {"type": "bar", "width": 10, "stroke": "#000", "strokeWidth": 0.8},
           "encoding": {"y": {"field": "mean", "type": "quantitative", "title": "(mg/dl)", "scale": {"domain": [0, 20], "nice": false}, "axis": {"values": [0, 10, 20], "tickCount": 20, "labelOverlap": false, "titlePadding": 13}},
             "fill": {"field": "group", "type": "nominal", "scale": {"domain": ["ND", "Ctrl", "Sesamol (100 mg/kg)", "Sesamol (200 mg/kg)"], "range": ["#a6a6a6", "#ffffff", "#808080", "#000000"]}, "legend": null}}},
          {"data": {"name": "bars"}, "transform": [{"filter": "datum.panel==='LDL' && datum.group==='ND'"}],
           "mark": {"type": "bar", "width": 10, "stroke": "#000", "strokeWidth": 0.8, "fill": {"gradient": "linear", "x1": 0, "y1": 0, "x2": 0.2026, "y2": 1.2568, "stops": [{"offset":0,"color":"#fff"},{"offset":0.028,"color":"#fff"},{"offset":0.028,"color":"#000"},{"offset":0.056,"color":"#000"},{"offset":0.056,"color":"#fff"},{"offset":0.084,"color":"#fff"},{"offset":0.084,"color":"#000"},{"offset":0.113,"color":"#000"},{"offset":0.113,"color":"#fff"},{"offset":0.141,"color":"#fff"},{"offset":0.141,"color":"#000"},{"offset":0.169,"color":"#000"},{"offset":0.169,"color":"#fff"},{"offset":0.197,"color":"#fff"},{"offset":0.197,"color":"#000"},{"offset":0.225,"color":"#000"},{"offset":0.225,"color":"#fff"},{"offset":0.253,"color":"#fff"},{"offset":0.253,"color":"#000"},{"offset":0.281,"color":"#000"},{"offset":0.281,"color":"#fff"},{"offset":0.309,"color":"#fff"},{"offset":0.309,"color":"#000"},{"offset":0.338,"color":"#000"},{"offset":0.338,"color":"#fff"},{"offset":0.366,"color":"#fff"},{"offset":0.366,"color":"#000"},{"offset":0.394,"color":"#000"},{"offset":0.394,"color":"#fff"},{"offset":0.422,"color":"#fff"},{"offset":0.422,"color":"#000"},{"offset":0.45,"color":"#000"},{"offset":0.45,"color":"#fff"},{"offset":0.478,"color":"#fff"},{"offset":0.478,"color":"#000"},{"offset":0.506,"color":"#000"},{"offset":0.506,"color":"#fff"},{"offset":0.534,"color":"#fff"},{"offset":0.534,"color":"#000"},{"offset":0.563,"color":"#000"},{"offset":0.563,"color":"#fff"},{"offset":0.591,"color":"#fff"},{"offset":0.591,"color":"#000"},{"offset":0.619,"color":"#000"},{"offset":0.619,"color":"#fff"},{"offset":0.647,"color":"#fff"},{"offset":0.647,"color":"#000"},{"offset":0.675,"color":"#000"},{"offset":0.675,"color":"#fff"},{"offset":0.703,"color":"#fff"},{"offset":0.703,"color":"#000"},{"offset":0.731,"color":"#000"},{"offset":0.731,"color":"#fff"},{"offset":0.759,"color":"#fff"},{"offset":0.759,"color":"#000"},{"offset":0.788,"color":"#000"},{"offset":0.788,"color":"#fff"},{"offset":0.816,"color":"#fff"},{"offset":0.816,"color":"#000"},{"offset":0.844,"color":"#000"},{"offset":0.844,"color":"#fff"},{"offset":0.872,"color":"#fff"},{"offset":0.872,"color":"#000"},{"offset":0.9,"color":"#000"},{"offset":0.9,"color":"#fff"},{"offset":1,"color":"#fff"}]}},
           "encoding": {"y": {"field": "mean", "type": "quantitative", "title": "(mg/dl)", "scale": {"domain": [0, 20], "nice": false}}}},
          {"data": {"name": "bars"}, "transform": [{"filter": "datum.panel==='LDL'"}],
           "mark": {"type": "rule", "color": "#808080", "strokeWidth": 0.8},
           "encoding": {"y": {"field": "mean", "type": "quantitative", "title": "(mg/dl)", "scale": {"domain": [0, 20], "nice": false}}, "y2": {"field": "upper"}}},
          {"data": {"name": "bars"}, "transform": [{"filter": "datum.panel==='LDL'"}],
           "mark": {"type": "tick", "color": "#808080", "size": 5, "thickness": 0.8},
           "encoding": {"y": {"field": "upper", "type": "quantitative", "title": "(mg/dl)", "scale": {"domain": [0, 20], "nice": false}}}},
          {"data": {"name": "brackets"}, "transform": [{"filter": "datum.panel==='LDL'"}],
           "mark": {"type": "line", "color": "#595959", "strokeWidth": 0.8},
           "encoding": {"y": {"field": "y", "type": "quantitative", "title": "(mg/dl)", "scale": {"domain": [0, 20], "nice": false}}, "detail": {"field": "id"}, "order": {"field": "ord"}}},
          {"data": {"name": "sig"}, "transform": [{"filter": "datum.panel==='LDL'"}],
           "mark": {"type": "text", "fontSize": 6.5, "baseline": "alphabetic", "font": "Liberation Serif", "color": "#000"},
           "encoding": {"x": {"field": "group", "type": "nominal", "bandPosition": 1}, "y": {"field": "y", "type": "quantitative", "title": "(mg/dl)", "scale": {"domain": [0, 20], "nice": false}}, "text": {"field": "label"}}}
        ]
      }
    ]
  }
]
}
